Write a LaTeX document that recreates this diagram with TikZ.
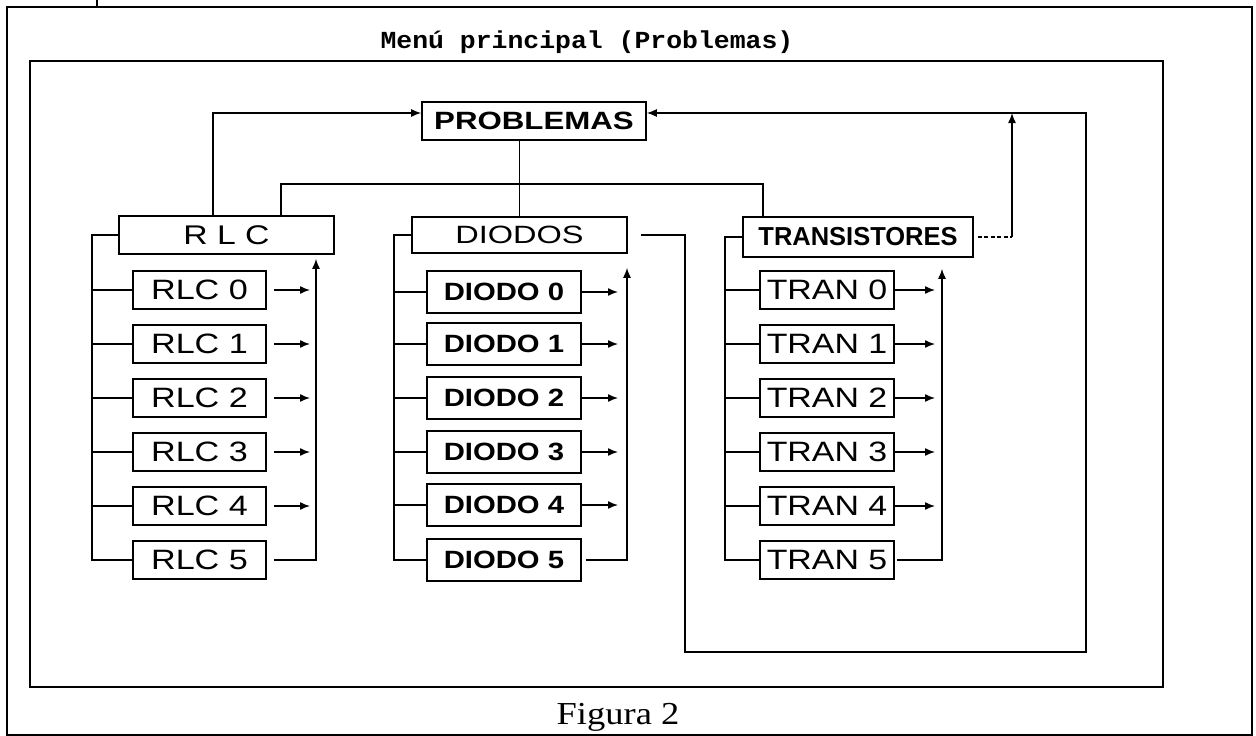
\documentclass[tikz,border=0pt]{standalone}
\usepackage{fontspec}
\usepackage{graphicx}
\setmainfont{Liberation Sans}
\newfontfamily\monof{Liberation Mono}
\newfontfamily\seriff{Liberation Serif}
\usetikzlibrary{arrows.meta}
\newcommand{\sx}[2]{\scalebox{#1}[1]{#2}}
\begin{document}
\begin{tikzpicture}[x=1pt,y=-1pt,
  box/.style={draw, line width=1.6pt, inner sep=0pt, minimum height=38pt},
  conn/.style={line width=1.4pt},
  arr/.style={conn, -{Latex[length=10pt,width=8pt]}},
  frame/.style={line width=1.6pt},
  inframe/.style={line width=2.3pt},
  regf/.style={font=\fontsize{28}{28}\selectfont},
  boldf/.style={font=\bfseries\fontsize{25}{25}\selectfont}
]
\useasboundingbox (0,0) rectangle (1256,736);
% frames
\draw[frame] (7,7) rectangle (1252,735);
\coordinate (tick) at (97,0);
\draw[frame] (tick) -- (97,7);
\draw[inframe] (30,61) rectangle (1163,687);
\node[anchor=base, font=\monof\bfseries\fontsize{24.5}{24.5}\selectfont] (title) at (587,48) {\sx{1.08}{Menú principal (Problemas)}};
\node[anchor=base, font=\seriff\fontsize{32}{32}\selectfont] (fig) at (618,724) {\sx{1.14}{Figura 2}};

% top level
\node[box, minimum width=224pt, font=\bfseries\fontsize{25}{25}\selectfont] (prob) at (534,121) {\sx{1.25}{PROBLEMAS}};
\node[box, minimum width=215pt, font=\fontsize{27}{27}\selectfont] (rlc) at (226.5,235) {\sx{1.25}{R L C}};
\node[box, minimum width=215pt, minimum height=36pt, font=\fontsize{25}{25}\selectfont] (dio) at (519.5,235) {\sx{1.3}{DIODOS}};
\node[box, minimum width=230pt, minimum height=40pt, font=\bfseries\fontsize{26}{26}\selectfont] (tra) at (858,237) {\sx{0.98}{TRANSISTORES}};

% children
\foreach \i/\y in {0/290,1/344,2/398,3/452,4/506,5/560}{
  \node[box, minimum width=133pt, regf] (r\i) at (199.5,\y) {\sx{1.22}{RLC \i}};
}
\foreach \i/\y in {0/292,1/344,2/398,3/452,4/505,5/560}{
  \node[box, minimum width=154pt, minimum height=42pt, boldf] (d\i) at (504,\y) {\sx{1.17}{DIODO \i}};
}
\foreach \i/\y in {0/290,1/344,2/398,3/452,4/506,5/560}{
  \node[box, minimum width=134pt, regf] (t\i) at (827,\y) {\sx{1.21}{TRAN \i}};
}

% connections PROBLEMAS -> groups
\coordinate (bus) at (522,184);
\draw[conn] (prob.south -| dio.north) -- (dio.north);
\draw[conn] ([xshift=54.5pt]rlc.north) |- (bus) -| ([xshift=-95pt]tra.north);
\draw[arr] ([xshift=-13.5pt]rlc.north) |- ([yshift=8pt]prob.west);

% loop from DIODOS back to PROBLEMAS
\coordinate (lpa) at (685,652);
\coordinate (lpb) at (1086,113);
\draw[arr, shorten <=13pt] (dio.east) -| (lpa) -| (lpb) -- ([yshift=8pt]prob.east);

% TRANSISTORES return
\coordinate (ta) at (1012,113);
\draw[conn, dash pattern=on 4pt off 2.5pt, shorten <=4pt] (tra.east) -- (ta |- tra.east);
\draw[arr] (ta |- tra.east) -- (ta);

% RLC tree
\coordinate (rb) at (92,0);
\coordinate (rv) at (316,0);
\draw[conn] (rlc.west) -| (rb |- r5.west) -- (r5.west);
\foreach \i in {0,...,4}{
  \draw[conn] (rb |- r\i.west) -- (r\i.west);
  \draw[arr, shorten <=7pt, shorten >=6pt] (r\i.east) -- (rv |- r\i.east);
}
\draw[arr, shorten <=7pt, shorten >=4pt] (r5.east) -- (rv |- r5.east) -- (rv |- rlc.south);

% DIODOS tree
\coordinate (db) at (394,0);
\coordinate (dv) at (627,0);
\draw[conn] (dio.west) -| (db |- d5.west) -- (d5.west);
\foreach \i in {0,...,4}{
  \draw[conn] (db |- d\i.west) -- (d\i.west);
  \draw[arr, shorten >=9pt] (d\i.east) -- (dv |- d\i.east);
}
\draw[arr, shorten <=4pt, shorten >=14pt] (d5.east) -- (dv |- d5.east) -- (dv |- dio.south);

% TRANSISTORES tree
\coordinate (tb) at (725,0);
\coordinate (tv) at (942,0);
\draw[conn] (tra.west) -| (tb |- t5.west) -- (t5.west);
\foreach \i in {0,...,4}{
  \draw[conn] (tb |- t\i.west) -- (t\i.west);
  \draw[arr, shorten >=7pt] (t\i.east) -- (tv |- t\i.east);
}
\draw[arr, shorten <=2pt, shorten >=11pt] (t5.east) -- (tv |- t5.east) -- (tv |- tra.south);
\end{tikzpicture}
\end{document}
